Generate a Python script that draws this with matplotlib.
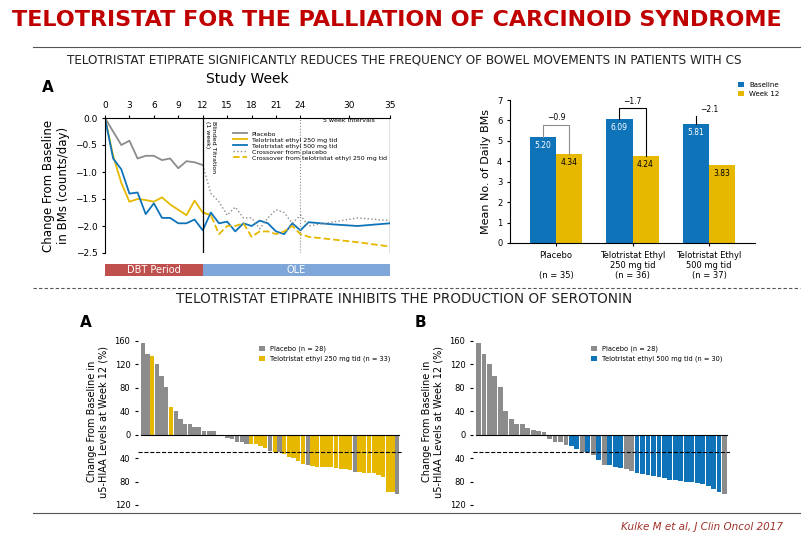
import numpy as np
import matplotlib.pyplot as plt
from matplotlib.ticker import FuncFormatter

GREY = '#8c8c8c'
YEL = '#e6b800'
BLUE = '#0f73b9'
W, H = 810, 540

# ---- data: BM change over study weeks
wk_pl = [0, 1, 2, 3, 4, 5, 6, 7, 8, 9, 10, 11, 12]
bm_pl = [0, -0.25, -0.5, -0.42, -0.75, -0.7, -0.7, -0.78, -0.75, -0.93, -0.8, -0.82, -0.87]
wk_250 = [0, 1, 2, 3, 4, 5, 6, 7, 8, 9, 10, 11, 12, 13]
bm_250 = [0, -0.7, -1.2, -1.55, -1.5, -1.52, -1.55, -1.47, -1.6, -1.7, -1.8, -1.53, -1.75, -1.8]
wk_500 = [0, 1, 2, 3, 4, 5, 6, 7, 8, 9, 10, 11, 12, 13, 14, 15, 16, 17, 18, 19, 20, 21, 22, 23, 24, 25, 28, 31, 35]
bm_500 = [0, -0.75, -0.95, -1.4, -1.38, -1.78, -1.58, -1.85, -1.85, -1.95, -1.95, -1.88, -2.08, -1.75, -1.95,
          -1.92, -2.1, -1.95, -2.0, -1.9, -1.95, -2.1, -2.15, -1.95, -2.08, -1.93, -1.97, -2.0, -1.95]
wk_xp = [12, 13, 14, 15, 16, 17, 18, 19, 20, 21, 22, 23, 24, 25, 27, 31, 35]
bm_xp = [-0.87, -1.4, -1.55, -1.8, -1.65, -1.85, -1.85, -2.05, -1.85, -1.7, -1.75, -1.95, -1.8, -2.0, -1.95, -1.85, -1.9]
wk_x250 = [12, 13, 14, 15, 16, 17, 18, 19, 20, 21, 22, 23, 24, 25, 28, 31, 35]
bm_x250 = [-1.75, -1.8, -2.15, -2.0, -2.0, -1.95, -2.2, -2.1, -2.1, -2.15, -2.1, -2.0, -2.15, -2.2, -2.25, -2.3, -2.38]
week_ticks = [0, 3, 6, 9, 12, 15, 18, 21, 24, 30, 35]

# ---- data: mean daily BMs
groups = ['Placebo\n\n(n = 35)', 'Telotristat Ethyl\n250 mg tid\n(n = 36)', 'Telotristat Ethyl\n500 mg tid\n(n = 37)']
baseline = [5.20, 6.09, 5.81]
week12 = [4.34, 4.24, 3.83]
diffs = ['\u22120.9', '\u22121.7', '\u22122.1']

# ---- data: u5-HIAA waterfall (value, group: P placebo, T telotristat)
wf_a = [157, 137, 135, 120, 100, 81, 47, 41, 26, 19, 19, 13, 13, 6, 6, 6, -1, -3, -5, -8, -12, -12, -16, -16, -16,
        -20, -22, -27, -30, -30, -33, -38, -40, -45, -50, -52, -53, -55, -55, -55, -56, -57, -58, -59, -60, -64,
        -64, -65, -66, -66, -68, -72, -97, -97, -102]
grp_a = 'PPTPPPTPPPPPPPPPTTPPPPPTTTTPTPTTTTTPTTTTTTTTTPTTTTTTTTP'
wf_b = [157, 137, 120, 100, 81, 41, 26, 19, 18, 12, 8, 6, 5, -8, -12, -12, -17, -20, -25, -30, -30, -35, -43, -52,
        -52, -55, -57, -58, -62, -65, -67, -68, -70, -72, -74, -77, -78, -79, -80, -81, -82, -84, -88, -92, -97, -102]
grp_b = 'PPPPPPPPPPPPPPPPPTTPTPTPTTTPPTTTTTTTTTTTTTTTTP'


def ax_px(x0, y0, x1, y1):
    return fig.add_axes([x0 / W, 1 - y1 / H, (x1 - x0) / W, (y1 - y0) / H])


fig = plt.figure(figsize=(8.1, 5.4), dpi=100)
fig.text(397 / W, 1 - 20 / H, 'TELOTRISTAT FOR THE PALLIATION OF CARCINOID SYNDROME', ha='center', va='center',
         color='#c00000', fontsize=16, fontweight='bold')
fig.add_artist(plt.Line2D([33 / W, 800 / W], [1 - 47 / H] * 2, color='#555555', lw=0.8))
fig.text(404 / W, 1 - 60 / H, 'TELOTRISTAT ETIPRATE SIGNIFICANTLY REDUCES THE FREQUENCY OF BOWEL MOVEMENTS IN PATIENTS WITH CS',
         ha='center', va='center', fontsize=9.6, color='#222222', fontstretch='condensed')
fig.add_artist(plt.Line2D([33 / W, 800 / W], [1 - 288 / H] * 2, color='#555555', lw=0.8, ls=(0, (3, 2))))
fig.text(404 / W, 1 - 299 / H, 'TELOTRISTAT ETIPRATE INHIBITS THE PRODUCTION OF SEROTONIN', ha='center', va='center',
         fontsize=9.8, color='#222222')
fig.add_artist(plt.Line2D([33 / W, 800 / W], [1 - 513 / H] * 2, color='#555555', lw=0.8))
fig.text(783 / W, 1 - 527 / H, 'Kulke M et al, J Clin Oncol 2017', ha='right', va='center', fontsize=7.5,
         style='italic', color='#a0302a')

# ---- line chart
ax = ax_px(105, 118, 390, 253)
ax.plot(wk_pl, bm_pl, color=GREY, lw=1.3, label='Placebo')
ax.plot(wk_250, bm_250, color=YEL, lw=1.3, label='Telotristat ethyl 250 mg tid')
ax.plot(wk_500, bm_500, color=BLUE, lw=1.3, label='Telotristat ethyl 500 mg tid')
ax.plot(wk_xp, bm_xp, color=GREY, lw=1, ls=':', label='Crossover from placebo')
ax.plot(wk_x250, bm_x250, color=YEL, lw=1.3, ls='--', label='Crossover from telotristat ethyl 250 mg tid')
ax.axvline(12, color='black', lw=0.9)
ax.axvline(24, color=GREY, lw=0.8, ls=':')
ax.axvline(35, color='black', lw=0.9)
ax.set_xlim(0, 35)
ax.set_ylim(-2.5, 0)
ax.set_xticks(week_ticks)
ax.xaxis.tick_top()
ax.tick_params(labelsize=6.5, length=2)
ax.set_yticks([0, -0.5, -1, -1.5, -2, -2.5])
ax.yaxis.set_major_formatter(FuncFormatter(lambda v, p: f'{v:.1f}'.replace('-', '\u2212')))
for s in ['right', 'bottom']:
    ax.spines[s].set_visible(False)
ax.set_title('Study Week', fontsize=10, pad=13)
ax.set_ylabel('Change From Baseline\nin BMs (counts/day)', fontsize=8.5)
ax.text(12.3, -0.05, 'Blinded Titration\n(1 week)', rotation=-90, fontsize=4.5, va='top')
ax.text(30, -0.07, '5 week intervals', fontsize=4.5, ha='center')
ax.legend(loc='upper left', bbox_to_anchor=(0.44, 0.92), fontsize=4.5, frameon=False, handlelength=2.2,
          labelspacing=0.1, borderaxespad=0)
fig.text(42 / W, 1 - 92 / H, 'A', fontsize=11, fontweight='bold')
# period bar
pb = ax_px(105, 264, 390, 276)
pb.barh(0, 12, left=0, height=1, color='#c0504d')
pb.barh(0, 23, left=12, height=1, color='#7ea6d8')
pb.text(6, 0, 'DBT Period', ha='center', va='center', color='white', fontsize=7)
pb.text(23.5, 0, 'OLE', ha='center', va='center', color='white', fontsize=7)
pb.set_xlim(0, 35)
pb.set_ylim(-0.5, 0.5)
pb.axis('off')

# ---- bar chart
bx = ax_px(510, 100, 755, 243)
x = np.arange(3)
bw = 0.34
bx.bar(x - bw / 2, baseline, bw, color=BLUE, label='Baseline')
bx.bar(x + bw / 2, week12, bw, color=YEL, label='Week 12')
for i in range(3):
    bx.text(x[i] - bw / 2, baseline[i] - 0.2, f'{baseline[i]:.2f}', ha='center', va='top', color='white', fontsize=5.5)
    bx.text(x[i] + bw / 2, week12[i] - 0.2, f'{week12[i]:.2f}', ha='center', va='top', fontsize=5.5)
    top = baseline[i] + 0.6 - 0.1 * i
    col = GREY if i == 0 else 'black'
    if i < 2:
        bx.plot([x[i] - bw / 2, x[i] - bw / 2, x[i] + bw / 2, x[i] + bw / 2],
                [baseline[i], top, top, week12[i]], color=col, lw=0.8)
    else:
        bx.plot([x[i] - bw / 2] * 2, [baseline[i], top], color=col, lw=0.8)
    bx.text(x[i], top + 0.1, diffs[i], ha='center', va='bottom', fontsize=5.5)
bx.set_ylim(0, 7)
bx.set_xlim(-0.6, 2.6)
bx.set_xticks(x)
bx.set_xticklabels(groups, fontsize=6)
bx.tick_params(labelsize=6, length=2)
bx.set_ylabel('Mean No. of Daily BMs', fontsize=8)
for s in ['right', 'top']:
    bx.spines[s].set_visible(False)
bx.legend(loc='lower left', bbox_to_anchor=(0.92, 1.0), fontsize=5, frameon=False, handlelength=0.8,
          handleheight=0.8, borderaxespad=0)


# ---- waterfalls
def waterfall(rect, vals, grps, tcol, tlabel, letter):
    wx = ax_px(*rect)
    cols = [GREY if g == 'P' else tcol for g in grps]
    idx = np.arange(len(vals))
    wx.bar(idx, vals, 0.88, color=cols)
    wx.bar([0], [0], color=GREY, label='Placebo (n = 28)')
    wx.bar([0], [0], color=tcol, label=tlabel)
    wx.axhline(0, color='black', lw=0.8, xmin=0.01, xmax=0.99)
    wx.axhline(-30, color='black', lw=0.8, ls='--', xmin=0.0, xmax=1.0)
    wx.set_xlim(-1, len(vals))
    wx.set_ylim(-120, 165)
    wx.set_yticks([160, 120, 80, 40, 0, -40, -80, -120])
    wx.yaxis.set_major_formatter(FuncFormatter(lambda v, p: f'{abs(v):.0f}'))
    wx.set_xticks([])
    wx.tick_params(labelsize=6, length=2)
    for s in ['right', 'top', 'bottom', 'left']:
        wx.spines[s].set_visible(False)
    wx.set_ylabel('Change From Baseline in\nu5-HIAA Levels at Week 12 (%)', fontsize=7)
    wx.legend(loc='upper left', bbox_to_anchor=(0.45, 0.97), fontsize=4.8, frameon=False, handlelength=0.8,
              handleheight=0.8, borderaxespad=0)
    fig.text((rect[0] - 58) / W, 1 - 327 / H, letter, fontsize=11, fontweight='bold')


waterfall((138, 338, 402, 505), wf_a, grp_a, YEL, 'Telotristat ethyl 250 mg tid (n = 33)', 'A')
waterfall((473, 338, 730, 505), wf_b, grp_b, BLUE, 'Telotristat ethyl 500 mg tid (n = 30)', 'B')

fig.savefig('out.png', dpi=100)
